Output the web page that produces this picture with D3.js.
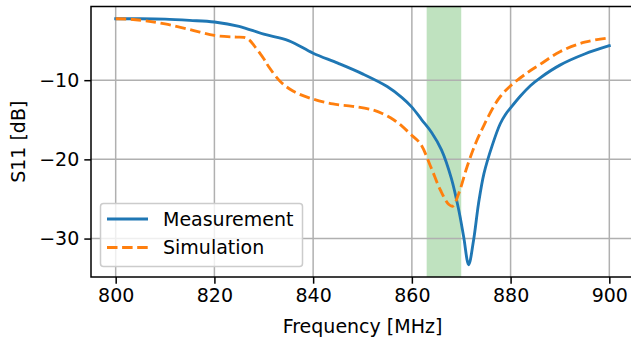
<!DOCTYPE html>
<html>
<head>
<meta charset="utf-8">
<script src="https://cdn.jsdelivr.net/npm/d3@7"></script>
<style>
  html, body { margin: 0; padding: 0; background: #fff; overflow: hidden; }
  svg { display: block; }
  text { font-family: "DejaVu Sans", sans-serif; }
</style>
</head>
<body>
<svg id="chart" width="631" height="339"></svg>
<script>
// ---- data ----
const measFreq = [800, 805, 810, 815, 820, 825, 830, 835, 840, 845, 850, 855, 858, 860, 862, 864, 866, 868, 869.5, 870.5, 871.5, 872.5, 873.5, 874.6, 876.3, 877.9, 879, 880, 882, 884, 886, 890, 895, 900];
const measS11  = [-2.25, -2.25, -2.3, -2.45, -2.65, -3.2, -4.2, -5.0, -6.6, -7.85, -9.2, -10.8, -12.2, -13.4, -15.0, -16.6, -18.8, -22.4, -26.4, -29.8, -33.3, -30.2, -25.6, -21.8, -18.2, -15.5, -14.3, -13.5, -12.0, -10.7, -9.7, -8.1, -6.7, -5.65];

const simFreq = [800, 803, 806, 810, 815, 820, 824, 826, 827, 828, 830, 831, 833.4, 836, 840, 844, 848, 852, 854, 856.3, 858, 859.7, 861.7, 863.8, 865.8, 867.5, 868.3, 869.5, 871.2, 872.9, 874.6, 876.6, 878, 880, 883.3, 886, 890, 895, 900];
const simS11  = [-2.25, -2.3, -2.5, -2.9, -3.6, -4.35, -4.55, -4.6, -4.9, -5.6, -7.3, -8.3, -10.2, -11.4, -12.4, -13.0, -13.3, -13.75, -14.2, -15.0, -15.8, -16.8, -18.0, -20.9, -23.9, -25.7, -25.9, -24.3, -20.9, -18.0, -15.7, -13.3, -12.0, -10.7, -9.1, -8.0, -6.4, -5.2, -4.65];

const bandRange = [863, 870];
const xTicks = [800, 820, 840, 860, 880, 900];
const yTicks = [-30, -20, -10];
const seriesNames = ["Measurement", "Simulation"];
const seriesColors = ["#1f77b4", "#ff7f0e"];
const xLabel = "Frequency [MHz]";
const yLabel = "S11 [dB]";

// ---- layout ----
const svg = d3.select("#chart");
const L = 91, T = 6.5, R = 634, B = 277;
const fs = 19;

const xMin = d3.min(measFreq.concat(simFreq)), xMax = d3.max(measFreq.concat(simFreq));
const allY = measS11.concat(simS11);
const yMin = d3.min(allY), yMax = d3.max(allY);
const xPad = (xMax - xMin) * 0.05, yPad = (yMax - yMin) * 0.05;

const x = d3.scaleLinear().domain([xMin - xPad, xMax + xPad]).range([L, R]);
const y = d3.scaleLinear().domain([yMin - yPad, yMax + yPad]).range([B, T]);

// band
svg.append("rect")
  .attr("x", x(bandRange[0])).attr("y", T)
  .attr("width", x(bandRange[1]) - x(bandRange[0])).attr("height", B - T)
  .attr("fill", "#2ca02c").attr("fill-opacity", 0.3);

// grid
const grid = svg.append("g").attr("stroke", "#b0b0b0").attr("stroke-width", 1.5);
xTicks.forEach(t => grid.append("line").attr("x1", x(t)).attr("x2", x(t)).attr("y1", T).attr("y2", B));
yTicks.forEach(t => grid.append("line").attr("x1", L).attr("x2", R).attr("y1", y(t)).attr("y2", y(t)));

// lines
const line = d3.line().x(d => x(d[0])).y(d => y(d[1])).curve(d3.curveCatmullRom.alpha(0.5));
svg.append("clipPath").attr("id", "clip").append("rect")
  .attr("x", L).attr("y", T).attr("width", R - L).attr("height", B - T);

svg.append("path")
  .datum(measFreq.map((f, i) => [f, measS11[i]]))
  .attr("d", line).attr("fill", "none")
  .attr("stroke", seriesColors[0]).attr("stroke-width", 2.85)
  .attr("stroke-linejoin", "round").attr("stroke-linecap", "square")
  .attr("clip-path", "url(#clip)");

svg.append("path")
  .datum(simFreq.map((f, i) => [f, simS11[i]]))
  .attr("d", line).attr("fill", "none")
  .attr("stroke", seriesColors[1]).attr("stroke-width", 2.85)
  .attr("stroke-dasharray", "10.5,4.6")
  .attr("stroke-linejoin", "round")
  .attr("clip-path", "url(#clip)");

// axes
const xAxis = d3.axisBottom(x).tickValues(xTicks).tickSize(6.7).tickPadding(5).tickFormat(d3.format("d"));
const yAxis = d3.axisLeft(y).tickValues(yTicks).tickSize(6.7).tickPadding(5)
  .tickFormat(d => (d < 0 ? "\u2212" : "") + Math.abs(d));

const gx = svg.append("g").attr("transform", `translate(0,${B})`).call(xAxis);
const gy = svg.append("g").attr("transform", `translate(${L},0)`).call(yAxis);
[gx, gy].forEach(g => {
  g.select(".domain").remove();
  g.selectAll(".tick line").attr("stroke", "#000").attr("stroke-width", 1.5);
  g.selectAll(".tick text").attr("fill", "#000").attr("font-size", fs).attr("font-family", "DejaVu Sans");
});

// spines
svg.append("rect").attr("x", L).attr("y", T).attr("width", R - L).attr("height", B - T)
  .attr("fill", "none").attr("stroke", "#000").attr("stroke-width", 1.5);

// axis labels
svg.append("text").attr("x", (L + R) / 2).attr("y", 333)
  .attr("text-anchor", "middle").attr("font-size", fs).text(xLabel);
svg.append("text")
  .attr("transform", `translate(25,${(T + B) / 2}) rotate(-90)`)
  .attr("text-anchor", "middle").attr("font-size", fs).text(yLabel);

// legend
const lg = svg.append("g");
lg.append("rect").attr("x", 100.5).attr("y", 203.5).attr("width", 202).attr("height", 63)
  .attr("rx", 3).attr("fill", "#fff").attr("fill-opacity", 0.8)
  .attr("stroke", "#cccccc").attr("stroke-width", 1.5);
seriesNames.forEach((n, i) => {
  const cy = 219 + i * 28.5;
  lg.append("line").attr("x1", 107).attr("x2", 148).attr("y1", cy).attr("y2", cy)
    .attr("stroke", seriesColors[i]).attr("stroke-width", 2.85)
    .attr("stroke-dasharray", i === 1 ? "10.5,4.6" : null);
  lg.append("text").attr("x", 163).attr("y", cy + 6.5).attr("font-size", fs).text(n);
});
</script>
</body>
</html>
